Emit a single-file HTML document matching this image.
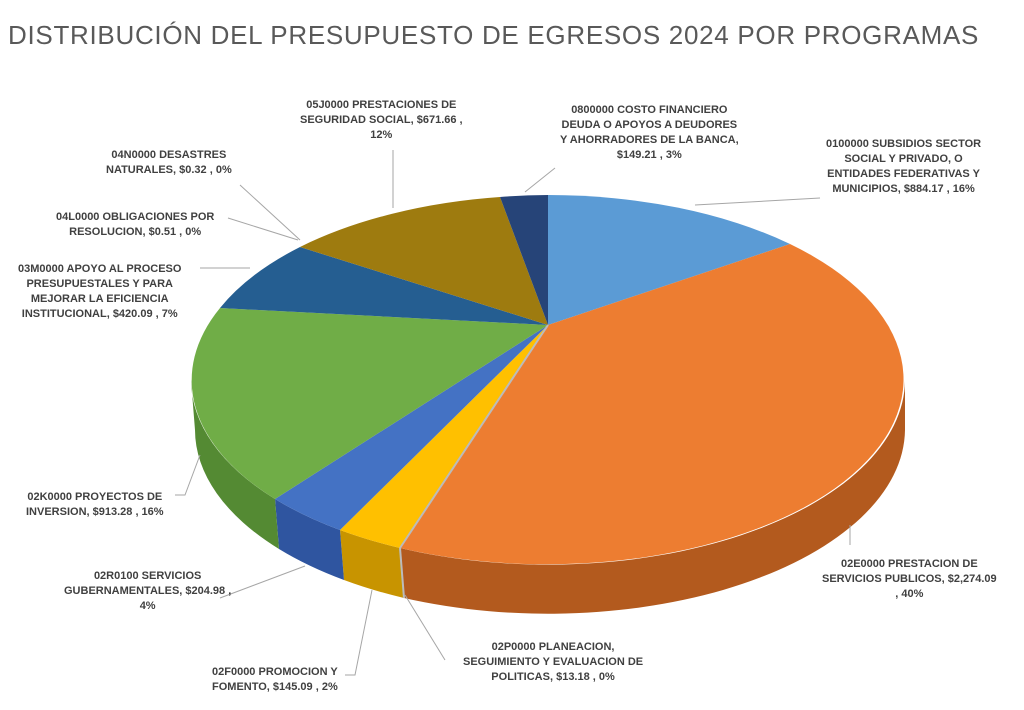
<!DOCTYPE html>
<html><head><meta charset="utf-8"><style>
body{margin:0;width:1024px;height:710px;background:#fff;overflow:hidden;font-family:"Liberation Sans",sans-serif}
.t{position:absolute;left:8px;top:20px;font-size:26px;color:#595959;letter-spacing:0.7px}
.l{position:absolute;font-size:11px;font-weight:bold;color:#404040;line-height:15px;text-align:center;white-space:nowrap}
</style></head><body>
<div class="t">DISTRIBUCIÓN DEL PRESUPUESTO DE EGRESOS 2024 POR PROGRAMAS</div>
<svg width="1024" height="710" style="position:absolute;left:0;top:0">
<g stroke="none">
<path d="M905,380 A357,185 0 0 1 400,548 L404,598 A357,185 0 0 0 905,430 Z" fill="#b35a1e"/>
<path d="M400,548 A357,185 0 0 1 340,530 L344,580 A357,185 0 0 0 404,598 Z" fill="#c89400"/>
<path d="M340,530 A357,185 0 0 1 275,499 L279,549 A357,185 0 0 0 344,580 Z" fill="#2f55a0"/>
<path d="M275,499 A357,185 0 0 1 191,380 L195,430 A357,185 0 0 0 279,549 Z" fill="#548a33"/>
<path d="M548,325 L548,195 A357,185 0 0 1 790,244 Z" fill="#5b9bd5"/>
<path d="M548,325 L790,244 A357,185 0 0 1 400,548 Z" fill="#ed7d31"/>
<path d="M548,325 L400,548 A357,185 0 0 1 340,530 Z" fill="#ffc000"/>
<path d="M548,325 L340,530 A357,185 0 0 1 275,499 Z" fill="#4472c4"/>
<path d="M548,325 L275,499 A357,185 0 0 1 220,308 Z" fill="#70ad47"/>
<path d="M548,325 L220,308 A357,185 0 0 1 300,247 Z" fill="#255e91"/>
<path d="M548,325 L300,247 A357,185 0 0 1 500,197 Z" fill="#9e7b0f"/>
<path d="M548,325 L500,197 A357,185 0 0 1 548,195 Z" fill="#264478"/>
</g>
<line x1="548" y1="325" x2="400" y2="548" stroke="#bbb" stroke-width="2"/>
<line x1="400" y1="548" x2="404" y2="598" stroke="#bbb" stroke-width="2"/>
<g stroke="#a6a6a6" fill="none" stroke-width="1">
<polyline points="695,205 820,198"/>
<polyline points="525,192 555,168"/>
<polyline points="393,208 393,150"/>
<polyline points="300,240 240,185"/>
<polyline points="298,240 228,218"/>
<polyline points="250,268 200,268"/>
<polyline points="200,455 185,495 175,495"/>
<polyline points="305,566 220,598"/>
<polyline points="372,590 355,675 345,675"/>
<polyline points="405,595 445,660"/>
<polyline points="850,525 850,545"/>
</g>
</svg>
<div class="l" style="left:300px;top:98px">05J0000 PRESTACIONES DE<br>SEGURIDAD SOCIAL, $671.66 ,<br>12%</div>
<div class="l" style="left:560px;top:103px">0800000 COSTO FINANCIERO<br>DEUDA O APOYOS A DEUDORES<br>Y AHORRADORES DE LA BANCA,<br>$149.21 , 3%</div>
<div class="l" style="left:826px;top:137px">0100000 SUBSIDIOS SECTOR<br>SOCIAL Y PRIVADO, O<br>ENTIDADES FEDERATIVAS Y<br>MUNICIPIOS, $884.17 , 16%</div>
<div class="l" style="left:106px;top:148px">04N0000 DESASTRES<br>NATURALES, $0.32 , 0%</div>
<div class="l" style="left:56px;top:210px">04L0000 OBLIGACIONES POR<br>RESOLUCION, $0.51 , 0%</div>
<div class="l" style="left:18px;top:262px">03M0000 APOYO AL PROCESO<br>PRESUPUESTALES Y PARA<br>MEJORAR LA EFICIENCIA<br>INSTITUCIONAL, $420.09 , 7%</div>
<div class="l" style="left:26px;top:490px">02K0000 PROYECTOS DE<br>INVERSION, $913.28 , 16%</div>
<div class="l" style="left:822px;top:557px">02E0000 PRESTACION DE<br>SERVICIOS PUBLICOS, $2,274.09<br>, 40%</div>
<div class="l" style="left:64px;top:569px">02R0100 SERVICIOS<br>GUBERNAMENTALES, $204.98 ,<br>4%</div>
<div class="l" style="left:463px;top:640px">02P0000 PLANEACION,<br>SEGUIMIENTO Y EVALUACION DE<br>POLITICAS, $13.18 , 0%</div>
<div class="l" style="left:212px;top:665px">02F0000 PROMOCION Y<br>FOMENTO, $145.09 , 2%</div>
</body></html>
